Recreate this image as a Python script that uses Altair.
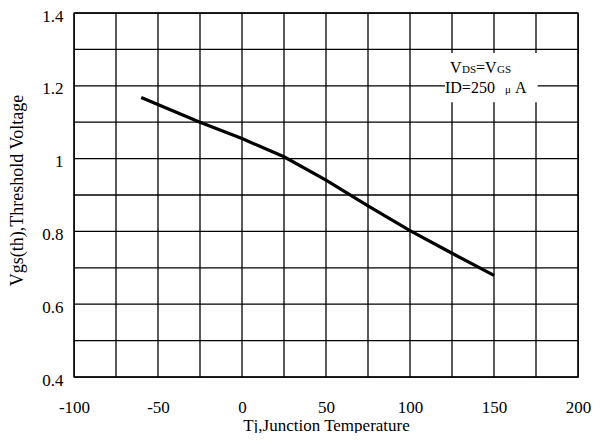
import altair as alt
import pandas as pd

# Data
temps = [-60, -25, 0, 25, 50, 75, 100, 125, 150]
vth = [1.168, 1.10, 1.055, 1.005, 0.941, 0.870, 0.802, 0.740, 0.679]

x_grid = list(range(-100, 201, 25))
y_grid = [0.4, 0.5, 0.6, 0.7, 0.8, 0.9, 1.0, 1.1, 1.2, 1.3, 1.4]
x_ticks = [-100, -50, 0, 50, 100, 150, 200]
y_ticks = [0.4, 0.6, 0.8, 1.0, 1.2, 1.4]

df = pd.DataFrame({"T": temps, "V": vth})

FONT = "Liberation Serif"
GW = 1.3

x_scale = alt.Scale(domain=[-100, 200], nice=False, zero=False)
y_scale = alt.Scale(domain=[0.4, 1.4], nice=False, zero=False)

x_axis = alt.Axis(
    values=x_ticks,
    labelExpr="datum.value < 0 ? '-' + abs(datum.value) : '' + datum.value",
    grid=False, ticks=False, tickSize=0, domain=False,
    labelFont=FONT, labelFontSize=17, labelColor="black", labelPadding=22,
    title="Tj,Junction Temperature", titleFont=FONT, titleFontSize=17,
    titleFontWeight="normal", titleColor="black",
    titleY=48, titleBaseline="middle",
    labelFlush=False, labelOverlap=False,
)
y_axis = alt.Axis(
    values=y_ticks,
    labelExpr="format(datum.value, '~g')",
    grid=False, ticks=False, tickSize=0, domain=False,
    labelFont=FONT, labelFontSize=17, labelColor="black", labelPadding=11,
    labelOffset=3,
    title="Vgs(th),Threshold Voltage", titleFont=FONT, titleFontSize=18,
    titleFontWeight="normal", titleColor="black",
    titleX=-57, titleY=177, titleBaseline="middle",
    labelFlush=False, labelOverlap=False,
)

vgrid = alt.Chart(pd.DataFrame({"gx": x_grid})).mark_rule(
    color="black", strokeWidth=GW
).encode(x=alt.X("gx:Q", scale=x_scale, axis=x_axis,
                 title="Tj,Junction Temperature"))

hgrid = alt.Chart(pd.DataFrame({"gy": y_grid})).mark_rule(
    color="black", strokeWidth=GW
).encode(y=alt.Y("gy:Q", scale=y_scale, axis=y_axis,
                 title="Vgs(th),Threshold Voltage"))

line = alt.Chart(df).mark_line(color="black", strokeWidth=3.2).encode(
    x=alt.X("T:Q", scale=x_scale, axis=x_axis, title="Tj,Junction Temperature"),
    y=alt.Y("V:Q", scale=y_scale, axis=y_axis, title="Vgs(th),Threshold Voltage"),
)

box = alt.Chart(pd.DataFrame({"a": [0]})).mark_rect(color="white").encode(
    x=alt.datum(120.8, scale=x_scale), x2=alt.datum(176),
    y=alt.datum(1.155, scale=y_scale), y2=alt.datum(1.29),
)

ann_x = 123.8
y1 = 1.235
y2 = 1.18

def piece(txt, y, dx, size):
    return alt.Chart(pd.DataFrame({"a": [0]})).mark_text(
        text=txt, font=FONT, fontSize=size, color="black",
        align="left", baseline="alphabetic", dx=dx,
    ).encode(x=alt.datum(ann_x, scale=x_scale), y=alt.datum(y, scale=y_scale))

ann = (
    piece("V", y1, 0, 16)
    + piece("DS", y1, 12, 11)
    + piece("=V", y1, 26, 16)
    + piece("GS", y1, 47, 11)
    + piece("ID=250", y2, -5, 16)
    + piece("\u03bc", y2, 55, 11)
    + piece("A", y2, 65, 16)
)

chart = alt.layer(vgrid, hgrid, box, line, ann).properties(
    width=504, height=364,
    autosize=alt.AutoSizeParams(type="none"),
    padding={"left": 66, "top": 5, "right": 15, "bottom": 56},
    background="white",
).configure_view(stroke="black", strokeWidth=GW)

chart.save("out.html", embed_options={"renderer": "svg", "actions": False})
